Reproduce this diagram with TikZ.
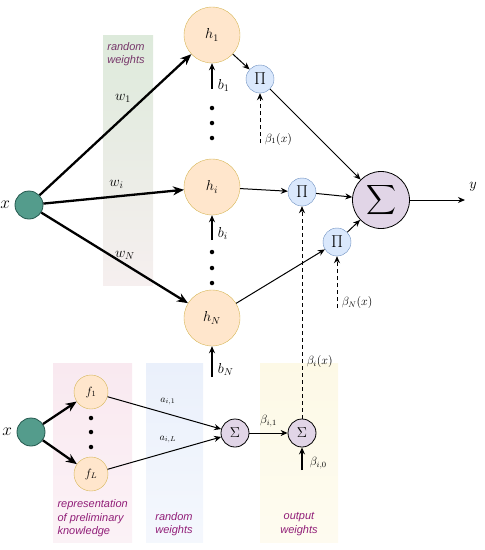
\documentclass[tikz,border=0pt]{standalone}
\usepackage{amsmath}
\usepackage{fontspec}
\newfontfamily\bandfont{Liberation Sans}
\usepackage{xcolor}
\definecolor{xfill}{RGB}{84,156,140}
\definecolor{xdraw}{RGB}{36,88,78}
\definecolor{hfill}{RGB}{255,230,204}
\definecolor{hdraw}{RGB}{214,182,86}
\definecolor{pfill}{RGB}{218,232,252}
\definecolor{pdraw}{RGB}{108,142,191}
\definecolor{sfill}{RGB}{225,213,231}
\definecolor{labtext}{RGB}{145,30,120}
\definecolor{bandgreen}{RGB}{221,234,219}
\definecolor{bandrose}{RGB}{246,239,239}
\definecolor{bandpink}{RGB}{249,233,240}
\definecolor{bandblue}{RGB}{234,240,251}
\definecolor{bandyellow}{RGB}{253,249,230}
\usetikzlibrary{arrows.meta, positioning}

\tikzset{
  inpnode/.style={circle, draw=xdraw, fill=xfill, thick, minimum size=28pt, inner sep=0pt},
  hidnode/.style={circle, draw=hdraw, fill=hfill, minimum size=56pt, inner sep=0pt, font=\Large},
  featnode/.style={circle, draw=hdraw, fill=hfill, minimum size=34pt, inner sep=0pt, font=\large},
  prodnode/.style={circle, draw=pdraw, fill=pfill, minimum size=28pt, inner sep=0pt, font=\LARGE},
  bigsum/.style={circle, draw, thick, fill=sfill, minimum size=57pt, inner sep=0pt, font=\fontsize{22}{24}\selectfont},
  smallsum/.style={circle, draw, thick, fill=sfill, minimum size=28pt, inner sep=0pt, font=\Large},
  thickarrow/.style={-{Stealth[length=11pt,width=9pt]}, line width=2.3pt},
  thinarrow/.style={-{Stealth[length=7pt,width=6pt]}, line width=1pt},
  dasharrow/.style={thinarrow, dashed, dash pattern=on 4pt off 3pt},
  banddot/.style={circle, fill=black, inner sep=0pt, minimum size=4.5pt},
  bandtext/.style={font=\bandfont\itshape\fontsize{11}{13.5}\selectfont, text=labtext, align=center}
}

\begin{document}
\begin{tikzpicture}[x=1pt, y=-1pt]
  \useasboundingbox (0,0) rectangle (485,550);
  % bands behind the network
  \shade[top color=bandgreen, bottom color=bandrose] (103,35) rectangle (153,285);
  \shade[top color=bandpink, bottom color=bandpink!60] (53,363) rectangle (132,542);
  \shade[top color=bandblue, bottom color=bandblue!50] (146,363) rectangle (203,542);
  \shade[top color=bandyellow, bottom color=bandyellow!60] (260,363) rectangle (338,542);
  \node[bandtext, text=labtext!80!black!70!gray] (rwtop) at (126,54) {random\\weights};
  \node[bandtext, anchor=north west, align=left] (reptext) at (54,496) {representation\\of preliminary\\knowledge};
  \node[bandtext] (rwbot) at (174,524) {random\\weights};
  \node[bandtext] (owbot) at (299,524) {output\\weights};

  % upper network
  \node[inpnode] (x1) at (29,205) {};
  \node[left=1pt of x1, font=\LARGE] (x1lab) {$x$};
  \node[hidnode] (h1) at (212,35) {$h_1$};
  \node[hidnode] (hi) at (212,187) {$h_i$};
  \node[hidnode] (hN) at (212,318) {$h_N$};
  \node[prodnode] (p1) at (260,79) {$\Pi$};
  \node[prodnode] (pi) at (302,192) {$\Pi$};
  \node[prodnode] (pN) at (337,242) {$\Pi$};
  \node[bigsum] (sum) at (381,200) {$\displaystyle\sum$};
  \coordinate (yout) at (465,200);
  \node[font=\Large] (ylab) at (473,187) {$y$};

  % dots between hidden units
  \foreach \yy in {108,123,138,252,268,283}
    \node[banddot] at (212,\yy) {};

  \draw[thickarrow] (x1) -- (h1) node[pos=0.55, above=11pt, font=\Large] {$w_1$};
  \draw[thickarrow] (x1) -- (hi) node[pos=0.52, above=3pt, font=\Large] {$w_i$};
  \draw[thickarrow] (x1) -- (hN) node[pos=0.57, above=0pt, font=\Large] {$w_N$};

  % biases
  \coordinate (b1t) at (212,89);
  \coordinate (bit) at (212,240);
  \coordinate (bNt) at (212,377);
  \draw[thinarrow, line width=1.3pt] (b1t) -- (h1.south) node[pos=0.15, right=2pt, font=\Large] {$b_1$};
  \draw[thinarrow, line width=1.3pt] (bit) -- (hi.south) node[pos=0.25, right=2pt, font=\Large] {$b_i$};
  \draw[thinarrow, line width=1.3pt] (bNt) -- (hN.south) node[pos=0.25, right=2pt, font=\Large] {$b_N$};

  \draw[thinarrow] (h1) -- (p1);
  \draw[thinarrow] (hi) -- (pi);
  \draw[thinarrow] (hN) -- (pN);
  \draw[thinarrow] (p1) -- (sum);
  \draw[thinarrow] (pi) -- (sum);
  \draw[thinarrow] (pN) -- (sum);
  \draw[thinarrow] (sum) -- (yout);

  % output weight functions
  \coordinate (beta1t) at (260,143);
  \coordinate (betaNt) at (337,308);
  \draw[dasharrow] (beta1t) -- (p1.south) node[pos=0.08, right=1pt, font=\large] {$\beta_1(x)$};
  \draw[dasharrow] (betaNt) -- (pN.south) node[pos=0.1, right=1pt, font=\large] {$\beta_N(x)$};

  % lower network
  \node[inpnode] (x2) at (31,432) {};
  \node[left=1pt of x2, font=\LARGE] (x2lab) {$x$};
  \node[featnode] (f1) at (91,392) {$f_1$};
  \node[featnode] (fL) at (91,474) {$f_L$};
  \foreach \yy in {418,432,447}
    \node[banddot] at (91,\yy) {};
  \node[smallsum] (sa) at (235,433) {$\Sigma$};
  \node[smallsum] (sb) at (302,433) {$\Sigma$};

  \draw[thickarrow] (x2) -- (f1);
  \draw[thickarrow] (x2) -- (fL);
  \draw[thinarrow] (f1) -- (sa) node[pos=0.53, above=5pt] {$a_{i,1}$};
  \draw[thinarrow] (fL) -- (sa) node[pos=0.53, above=5pt] {$a_{i,L}$};
  \draw[thinarrow] (sa) -- (sb) node[pos=0.5, above=2pt, font=\large] {$\beta_{i,1}$};
  \coordinate (beta0t) at (302,470);
  \draw[thinarrow, line width=1.3pt] (beta0t) -- (sb.south) node[pos=0.3, right=4pt, font=\large] {$\beta_{i,0}$};
  \draw[dasharrow] (sb.north) -- (pi.south) node[pos=0.27, right=1pt, font=\large] {$\beta_i(x)$};
\end{tikzpicture}
\end{document}
